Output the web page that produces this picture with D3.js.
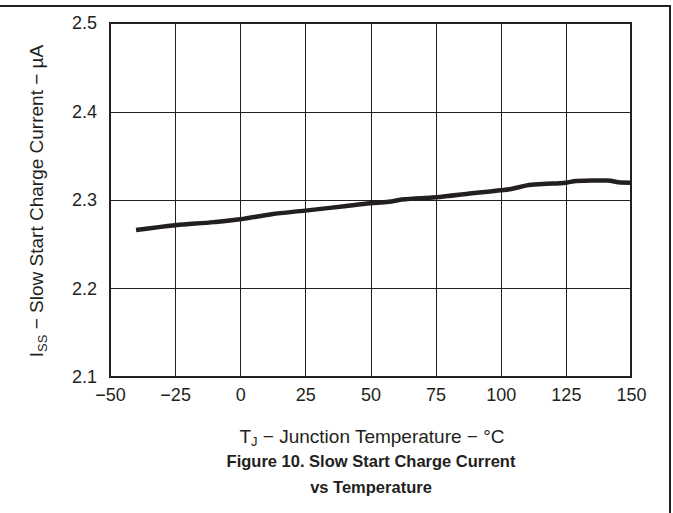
<!DOCTYPE html>
<html><head><meta charset="utf-8">
<script src="https://cdn.jsdelivr.net/npm/d3@7"></script>
<style>body{margin:0;background:#fff}svg{display:block}text{font-family:Arial,"Liberation Sans",sans-serif;fill:#231f20}</style>
</head><body><svg id="c" width="673" height="513"></svg>
<script>
const tempC = [-40,-25,-10,0,12,25,40,50,57,62,75,90,100,104,110,116,125,129,135,141,146,150];
const issUA = [2.266,2.2715,2.275,2.2782,2.284,2.288,2.293,2.2963,2.298,2.3005,2.303,2.308,2.311,2.3125,2.3165,2.318,2.3195,2.3215,2.322,2.322,2.3198,2.3196];
const xTicks = [-50,-25,0,25,50,75,100,125,150];
const xTickLabels = ["\u221250","\u221225","0","25","50","75","100","125","150"];
const yTicks = [2.1,2.2,2.3,2.4,2.5];
const yTickLabels = ["2.1","2.2","2.3","2.4","2.5"];

const svg = d3.select("#c");
const ink = "#231f20";
const L=110, R=631, T=23, B=377;
const x = d3.scaleLinear().domain([-50,150]).range([L,R]);
const y = d3.scaleLinear().domain([2.1,2.5]).range([B,T]);

// outer frame
svg.append("line").attr("x1",0).attr("x2",671).attr("y1",6).attr("y2",6).attr("stroke",ink).attr("stroke-width",2);
svg.append("line").attr("x1",670).attr("x2",670).attr("y1",6).attr("y2",513).attr("stroke",ink).attr("stroke-width",2);

// grid
svg.append("g").selectAll("line").data(xTicks.slice(1,-1)).join("line")
  .attr("x1",d=>Math.round(x(d))+0.5).attr("x2",d=>Math.round(x(d))+0.5).attr("y1",T).attr("y2",B)
  .attr("stroke",ink).attr("stroke-width",1);
svg.append("g").selectAll("line").data(yTicks.slice(1,-1)).join("line")
  .attr("y1",d=>Math.round(y(d))+0.5).attr("y2",d=>Math.round(y(d))+0.5).attr("x1",L).attr("x2",R)
  .attr("stroke",ink).attr("stroke-width",1);

// axes with labels (no tick marks)
const xa = svg.append("g").attr("transform",`translate(0,${B})`)
  .call(d3.axisBottom(x).tickValues(xTicks).tickFormat((d,i)=>xTickLabels[i]).tickSize(0).tickPadding(11));
xa.select(".domain").remove();
xa.selectAll("text").attr("font-size",18).attr("font-family","Arial,'Liberation Sans',sans-serif").attr("fill",ink).attr("dy","0.71em");
const ya = svg.append("g").attr("transform",`translate(${L},0)`)
  .call(d3.axisLeft(y).tickValues(yTicks).tickFormat((d,i)=>yTickLabels[i]).tickSize(0).tickPadding(13));
ya.select(".domain").remove();
ya.selectAll("text").attr("font-size",18).attr("font-family","Arial,'Liberation Sans',sans-serif").attr("fill",ink);

// plot border
svg.append("rect").attr("x",L).attr("y",T).attr("width",R-L).attr("height",B-T)
  .attr("fill","none").attr("stroke",ink).attr("stroke-width",2);

// curve
const line = d3.line().x((d,i)=>x(tempC[i])).y(d=>y(d)).curve(d3.curveMonotoneX);
svg.append("path").attr("d",line(issUA)).attr("fill","none").attr("stroke",ink).attr("stroke-width",4.5).attr("stroke-linecap","butt");

// x title
const xt = svg.append("text").attr("x",372).attr("y",443).attr("text-anchor","middle").attr("font-size",19);
xt.append("tspan").text("T");
xt.append("tspan").attr("font-size",13).attr("dy",3).text("J");
xt.append("tspan").attr("dy",-3).text(" \u2212 Junction Temperature \u2212 \u00b0C");

// y title
const yt = svg.append("text").attr("transform","translate(43,201) rotate(-90)").attr("text-anchor","middle").attr("font-size",19);
yt.append("tspan").text("I");
yt.append("tspan").attr("font-size",13).attr("dy",4).text("SS");
yt.append("tspan").attr("dy",-4).text(" \u2212 Slow Start Charge Current \u2212 \u00b5A");

// caption
svg.append("text").attr("x",371).attr("y",467).attr("text-anchor","middle").attr("font-size",16.5).attr("font-weight","bold").text("Figure 10. Slow Start Charge Current");
svg.append("text").attr("x",371).attr("y",493).attr("text-anchor","middle").attr("font-size",16.5).attr("font-weight","bold").text("vs Temperature");
</script></body></html>
